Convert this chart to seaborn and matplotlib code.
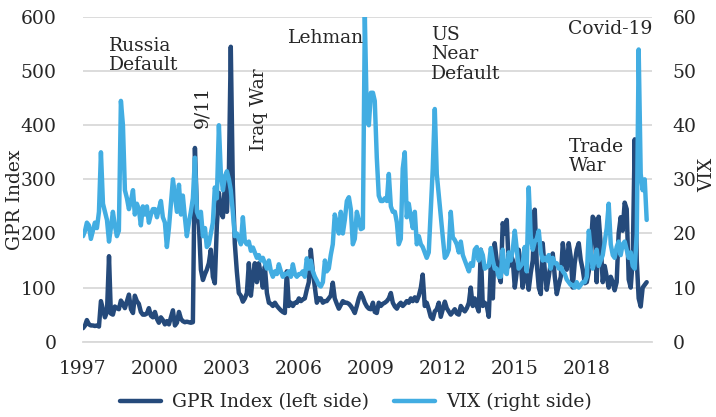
import matplotlib
matplotlib.use("Agg")
import matplotlib.pyplot as plt
import pandas as pd
import seaborn as sns

# monthly values, Jan 1997 - Jul 2020 (one row per year)
gpr = [
    25, 30, 40, 32, 30, 30, 29, 30, 28, 75, 60, 45,
    55, 158, 52, 50, 65, 62, 60, 76, 70, 62, 75, 87,
    60, 53, 85, 75, 70, 55, 50, 50, 52, 62, 48, 45,
    55, 42, 35, 45, 40, 32, 38, 32, 45, 58, 30, 35,
    55, 42, 38, 36, 37, 36, 35, 36, 358, 244, 215, 133,
    114, 125, 133, 145, 170, 120, 108, 215, 275, 240, 230, 290,
    240, 320, 545, 290, 182, 130, 90, 85, 74, 80, 90, 145,
    85, 120, 145, 110, 145, 124, 100, 139, 90, 72, 70, 66,
    72, 66, 62, 58, 55, 53, 130, 66, 72, 66, 72, 72,
    80, 75, 78, 80, 96, 110, 170, 130, 100, 72, 80, 80,
    72, 75, 75, 80, 85, 109, 80, 70, 61, 68, 75, 72,
    72, 70, 66, 60, 53, 66, 80, 90, 82, 72, 65, 61,
    60, 72, 55, 53, 72, 66, 70, 72, 75, 80, 90, 72,
    65, 61, 68, 72, 66, 70, 75, 72, 80, 75, 82, 75,
    85, 100, 124, 66, 72, 60, 46, 42, 56, 60, 72, 46,
    60, 74, 62, 56, 50, 55, 60, 52, 50, 66, 60, 56,
    62, 72, 100, 66, 80, 66, 56, 170, 66, 72, 66, 46,
    145, 80, 182, 150, 124, 110, 219, 200, 225, 139, 160, 151,
    100, 130, 170, 145, 100, 139, 120, 96, 127, 150, 244, 145,
    100, 88, 182, 133, 96, 120, 145, 163, 120, 88, 105, 120,
    182, 150, 133, 182, 157, 100, 145, 170, 182, 151, 133, 108,
    110, 130, 170, 231, 225, 110, 231, 180, 110, 140, 120, 100,
    120, 110, 95, 110, 200, 230, 205, 257, 245, 115, 100, 150,
    374, 150, 80, 65, 100, 105, 110,
]

vix = [
    19.5, 20.5, 22, 21.5, 19, 20.5, 22, 21, 24, 35, 25.5, 24,
    22.5, 18.5, 21, 24, 21.5, 19.5, 20.5, 44.5, 40, 28, 26.5, 24.5,
    26, 28, 23.5, 25.5, 24.5, 21.5, 25, 23.5, 25, 22, 23.5, 24.5,
    24.5, 23, 24.5, 26, 23, 22, 17.5, 21, 25.5, 30, 27, 24,
    29, 23.5, 27, 23, 19.5, 22, 24, 26.5, 34, 24, 23, 24,
    19.5, 21, 17.5, 18, 20, 22, 28.5, 26.5, 40, 31, 28, 30.5,
    31.5, 30, 28, 24, 19.5, 20, 19, 18, 23, 18.5, 18, 18.5,
    16.8, 17.4, 16.5, 15.5, 16, 15, 15.5, 14.5, 13.5, 15, 13, 12,
    13, 12.5, 14.3, 13, 12, 12.5, 12.5, 13, 12, 14.3, 12.5, 12,
    12.5, 12.5, 13, 12, 15.4, 13.5, 15, 13, 12, 11.3, 10.5, 10.2,
    11, 15, 13, 13.5, 16, 18, 23.5, 22, 20, 24, 20, 22.5,
    26, 26.7, 24.5, 18, 19, 24, 22.5, 20.8, 21, 60, 41, 40,
    46, 46, 44.5, 34, 27, 26, 26, 26.5, 26, 31, 25, 24,
    24, 22, 18, 19, 32, 35, 23, 25.5, 23, 21, 24, 18,
    19.5, 18, 17.5, 16.5, 15.5, 16.5, 24, 32, 43, 31, 27, 23,
    19.3, 15.5, 16, 17, 24, 19.3, 18.8, 18, 16.5, 18.5, 16, 15,
    14, 13, 14.5, 14, 17, 17.5, 15, 17, 16, 13.5, 13.8, 14,
    17.3, 15, 13.5, 13.5, 12, 12, 17, 13, 12.5, 16.5, 15, 17,
    20.5, 17, 13.5, 14, 14.5, 17.5, 13, 28.5, 19.5, 17, 18.5, 19,
    20.5, 16.5, 15, 15.5, 15, 16, 13.5, 15.5, 14.5, 14.5, 13.5, 13.8,
    13, 12.5, 11.5, 11, 10.5, 10.5, 10, 11, 10, 10.5, 11, 11,
    12, 20.5, 17, 13.5, 15, 17, 14, 15, 16, 18.5, 21, 25.5,
    18, 16, 15.5, 17.5, 18.5, 16, 18, 18.5, 17, 15.5, 16.5, 14,
    13.5, 20, 54, 31, 28, 30, 22.5,
]

dates = pd.date_range("1997-01-01", periods=len(gpr), freq="MS")
tick_years = [1997, 2000, 2003, 2006, 2009, 2012, 2015, 2018]

# label, left px, top px, rotation
events = [
    ("Russia\nDefault", 109, 37, 0),
    ("9/11", 193, 86, 90),
    ("Iraq War", 250, 68, 90),
    ("Lehman", 288, 29, 0),
    ("US\nNear\nDefault", 431, 26, 0),
    ("Covid-19", 568, 20, 0),
    ("Trade\nWar", 569, 138, 0),
]

dark = "#254a7b"
light = "#42ade2"
grid_c = "#d9d9d9"

sns.set_style("white")
plt.rcParams["font.family"] = ["DejaVu Serif"]
plt.rcParams["font.size"] = 13.5

W, H = 716, 417
fig = plt.figure(figsize=(W / 100, H / 100), dpi=100)
ax = fig.add_axes([83 / W, 1 - 341.7 / H, (652 - 83) / W, (341.7 - 17) / H])

df = pd.DataFrame({"date": dates, "gpr": gpr, "vix": vix})
sns.lineplot(data=df, x="date", y="gpr", ax=ax, color=dark, linewidth=3.2,
             label="GPR Index (left side)", legend=False)
ax.set_ylim(0, 600)
ax.set_yticks(range(0, 601, 100))
ax.set_xlim(pd.Timestamp("1997-01-01"), pd.Timestamp("2020-09-20"))
ax.set_xticks([pd.Timestamp(f"{y}-01-01") for y in tick_years])
ax.set_xticklabels([str(y) for y in tick_years])
ax.yaxis.grid(True, color=grid_c, linewidth=1.3)
ax.set_axisbelow(True)
for s in ["top", "right", "left"]:
    ax.spines[s].set_visible(False)
ax.spines["bottom"].set_color(grid_c)
ax.spines["bottom"].set_linewidth(1.3)
ax.tick_params(axis="x", direction="out", length=4, width=1.2, color=grid_c, pad=9)
ax.tick_params(axis="y", length=0, pad=19)
ax.set_xlabel("")
ax.set_ylabel("")

ax2 = ax.twinx()
sns.lineplot(data=df, x="date", y="vix", ax=ax2, color=light, linewidth=3.2,
             label="VIX (right side)", legend=False)
ax2.set_ylim(0, 60)
ax2.set_yticks(range(0, 61, 10))
ax2.set_ylabel("")
for s in ax2.spines.values():
    s.set_visible(False)
ax2.tick_params(axis="y", length=0, pad=15)
ax2.grid(False)

fig.text(15 / W, 1 - 200 / H, "GPR Index", rotation=90, ha="center", va="center")
fig.text(707 / W, 1 - 175 / H, "VIX", rotation=90, ha="center", va="center")

for label, px, py, rot in events:
    fig.text(px / W, 1 - py / H, label, rotation=rot, ha="left", va="top",
             linespacing=1.1)

h1, l1 = ax.get_legend_handles_labels()
h2, l2 = ax2.get_legend_handles_labels()
fig.legend(h1 + h2, l1 + l2, loc="center", bbox_to_anchor=(356 / W, 1 - 402 / H),
           ncol=2, frameon=False, handlelength=2.2, handletextpad=0.6,
           columnspacing=1.3)

fig.savefig("out.png", dpi=100)
